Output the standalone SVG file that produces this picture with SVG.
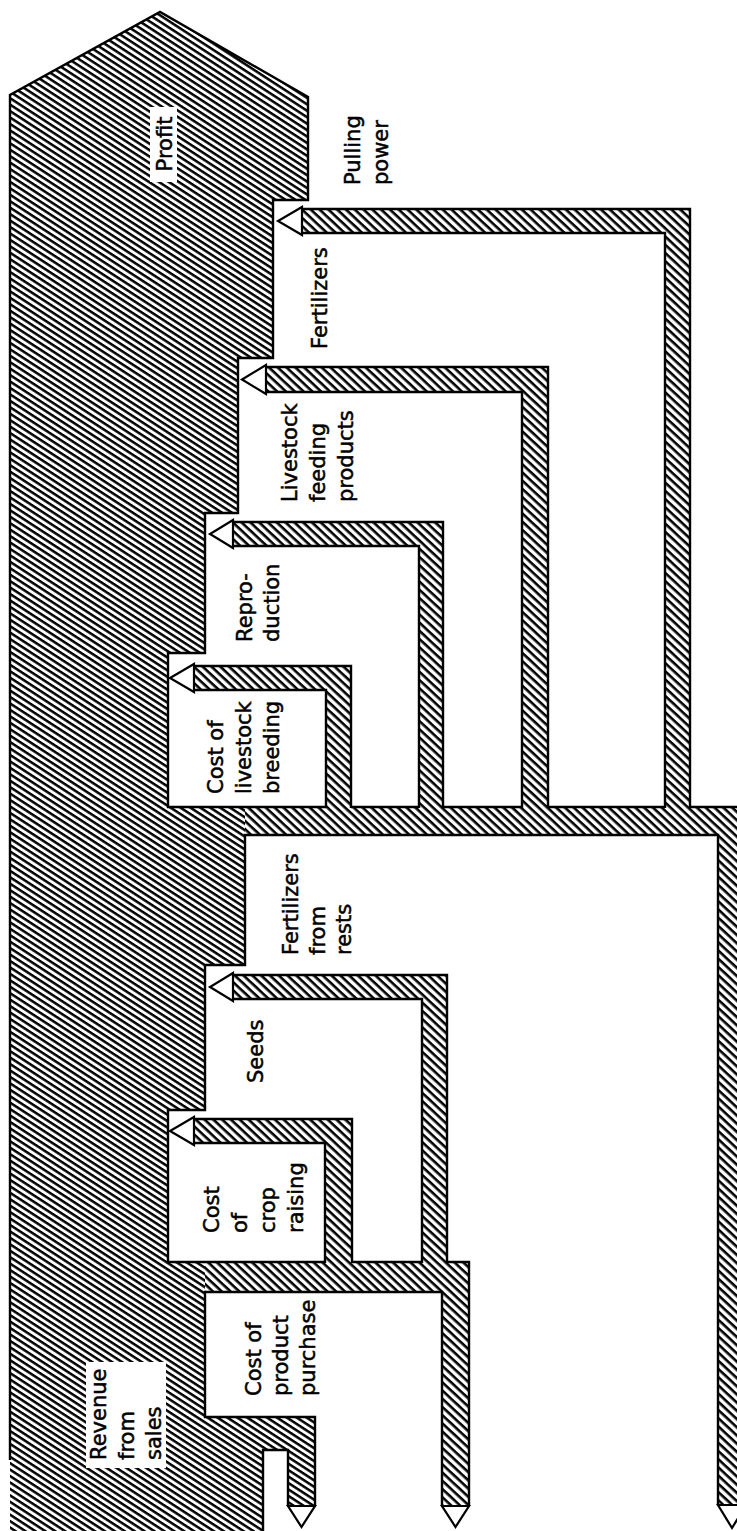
<svg xmlns="http://www.w3.org/2000/svg" width="737" height="1531" viewBox="0 0 737 1531">
<defs>
<pattern id="hm" patternUnits="userSpaceOnUse" width="20" height="5.4" patternTransform="rotate(33)"><rect width="20" height="5.4" fill="#fff"/><rect width="20" height="2.5" fill="#000"/></pattern>
<pattern id="hf" patternUnits="userSpaceOnUse" width="20" height="6" patternTransform="rotate(43)"><rect width="20" height="6" fill="#fff"/><rect width="20" height="2.6" fill="#000"/></pattern>
<style>
.ln{fill:none;stroke:#000;stroke-width:2.4;stroke-linejoin:miter}
.ah{fill:#fff;stroke:#000;stroke-width:2.2;stroke-linejoin:miter}
.fm{fill:url(#hm);stroke:none}
.ff{fill:url(#hf);stroke:none}
.lb{font-family:"DejaVu Sans",sans-serif;font-size:21px;fill:#000;stroke:#000;stroke-width:0.5}
.bg{fill:#fff}
</style>
</defs>
<rect width="737" height="1531" fill="#fff"/>

<g id="main-band">
<path class="fm" d="M10,1531 L10,95 L160,12 L308,97 L308,200 L273,200 L273,358 L238,358 L238,513 L205,513 L205,653 L168,653 L168,807 L746,807 L746,1505 L718,1505 L718,835 L245,835 L245,965 L205,965 L205,1110 L168,1110 L168,1262 L469,1262 L469,1506 L442,1506 L442,1292 L205,1292 L205,1417 L315,1417 L315,1506 L288,1506 L288,1450 L263,1450 L263,1531 Z"/>
</g>

<g id="connectors">
<path class="ff" d="M245,808 H746 V1505 H719 V834 H245 Z"/>
<path class="ff" d="M205,1263 H468 V1506 H443 V1291 H205 Z"/>

<g id="flow-pulling-power">
<path class="ff" d="M302,209 H690 V809 H665 V233 H302 Z"/>
<path class="ln" d="M302,209 H690 V808 M302,233 H665 V808"/>
<polygon class="ah" points="302,207 302,235 278,221"/>
</g>
<g id="flow-fertilizers">
<path class="ff" d="M266,367 H548 V809 H522 V392 H266 Z"/>
<path class="ln" d="M266,367 H548 V808 M266,392 H522 V808"/>
<polygon class="ah" points="266,365 266,394 242,379.5"/>
</g>
<g id="flow-livestock-feeding">
<path class="ff" d="M233,522 H443 V809 H419 V546 H233 Z"/>
<path class="ln" d="M233,522 H443 V808 M233,546 H419 V808"/>
<polygon class="ah" points="233,520 233,548 210,534"/>
</g>
<g id="flow-reproduction">
<path class="ff" d="M194,666 H351 V809 H326 V690 H194 Z"/>
<path class="ln" d="M194,666 H351 V808 M194,690 H326 V808"/>
<polygon class="ah" points="194,664 194,692 170,678"/>
</g>
<g id="flow-fertilizers-rests">
<path class="ff" d="M233,975 H447 V1264 H422 V999 H233 Z"/>
<path class="ln" d="M233,975 H447 V1263 M233,999 H422 V1263"/>
<polygon class="ah" points="233,973 233,1001 210,987"/>
</g>
<g id="flow-seeds">
<path class="ff" d="M194,1119 H352 V1264 H325 V1143 H194 Z"/>
<path class="ln" d="M194,1119 H352 V1263 M194,1143 H325 V1263"/>
<polygon class="ah" points="194,1117 194,1145 170,1131"/>
</g>

<path class="ln" d="M10,1460 L10,95 L160,12 L308,97 L308,200 L273,200 L273,358 L238,358 L238,513 L205,513 L205,653 L168,653 L168,807 L326,807 M351,807 L419,807 M443,807 L522,807 M548,807 L665,807 M690,807 L748,807"/>
<path class="ln" d="M718,1505 L718,835 L245,835 L245,965 L205,965 L205,1110 L168,1110 L168,1262 L325,1262 M352,1262 L422,1262 M447,1262 L469,1262 L469,1506 M442,1506 L442,1292 L205,1292 L205,1417 L315,1417 L315,1506 M288,1506 L288,1450 L263,1450 L263,1531"/>
<polygon class="ah" points="718,1505 746,1505 732,1528"/>
<polygon class="ah" points="442,1506 469,1506 455.5,1527"/>
<polygon class="ah" points="288,1506 315,1506 301.5,1527"/>
</g>

<g id="label-profit">
<rect class="bg" x="150" y="107" width="27" height="75"/>
<text class="lb" transform="translate(172,144) rotate(-90)" text-anchor="middle">Profit</text>
</g>
<g id="label-pulling-power">
<text class="lb" transform="translate(360,185) rotate(-90)"><tspan x="0" y="0">Pulling</tspan><tspan x="0" y="28">power</tspan></text>
</g>
<g id="label-fertilizers">
<text class="lb" transform="translate(327,349) rotate(-90)">Fertilizers</text>
</g>
<g id="label-livestock-feeding">
<text class="lb" transform="translate(297,502) rotate(-90)"><tspan x="0" y="0">Livestock</tspan><tspan x="0" y="28">feeding</tspan><tspan x="0" y="56">products</tspan></text>
</g>
<g id="label-reproduction">
<text class="lb" transform="translate(252,642) rotate(-90)"><tspan x="0" y="0">Repro-</tspan><tspan x="0" y="27">duction</tspan></text>
</g>
<g id="label-livestock-breeding">
<text class="lb" transform="translate(223,794) rotate(-90)"><tspan x="0" y="0">Cost of</tspan><tspan x="0" y="28">livestock</tspan><tspan x="0" y="56">breeding</tspan></text>
</g>
<g id="label-fertilizers-rests">
<text class="lb" transform="translate(298,955) rotate(-90)"><tspan x="0" y="0">Fertilizers</tspan><tspan x="0" y="27">from</tspan><tspan x="0" y="53">rests</tspan></text>
</g>
<g id="label-seeds">
<text class="lb" transform="translate(263,1083) rotate(-90)">Seeds</text>
</g>
<g id="label-crop-raising">
<text class="lb" transform="translate(219,1233) rotate(-90)"><tspan x="0" y="0">Cost</tspan><tspan x="0" y="28">of</tspan><tspan x="0" y="56">crop</tspan><tspan x="0" y="84">raising</tspan></text>
</g>
<g id="label-product-purchase">
<text class="lb" transform="translate(261,1396) rotate(-90)"><tspan x="0" y="0">Cost of</tspan><tspan x="0" y="27">product</tspan><tspan x="0" y="54">purchase</tspan></text>
</g>
<g id="label-revenue">
<rect class="bg" x="86" y="1362" width="80" height="106"/>
<text class="lb" transform="translate(106,1460) rotate(-90)"><tspan x="0" y="0">Revenue</tspan><tspan x="0" y="27.5">from</tspan><tspan x="0" y="55">sales</tspan></text>
</g>
</svg>
